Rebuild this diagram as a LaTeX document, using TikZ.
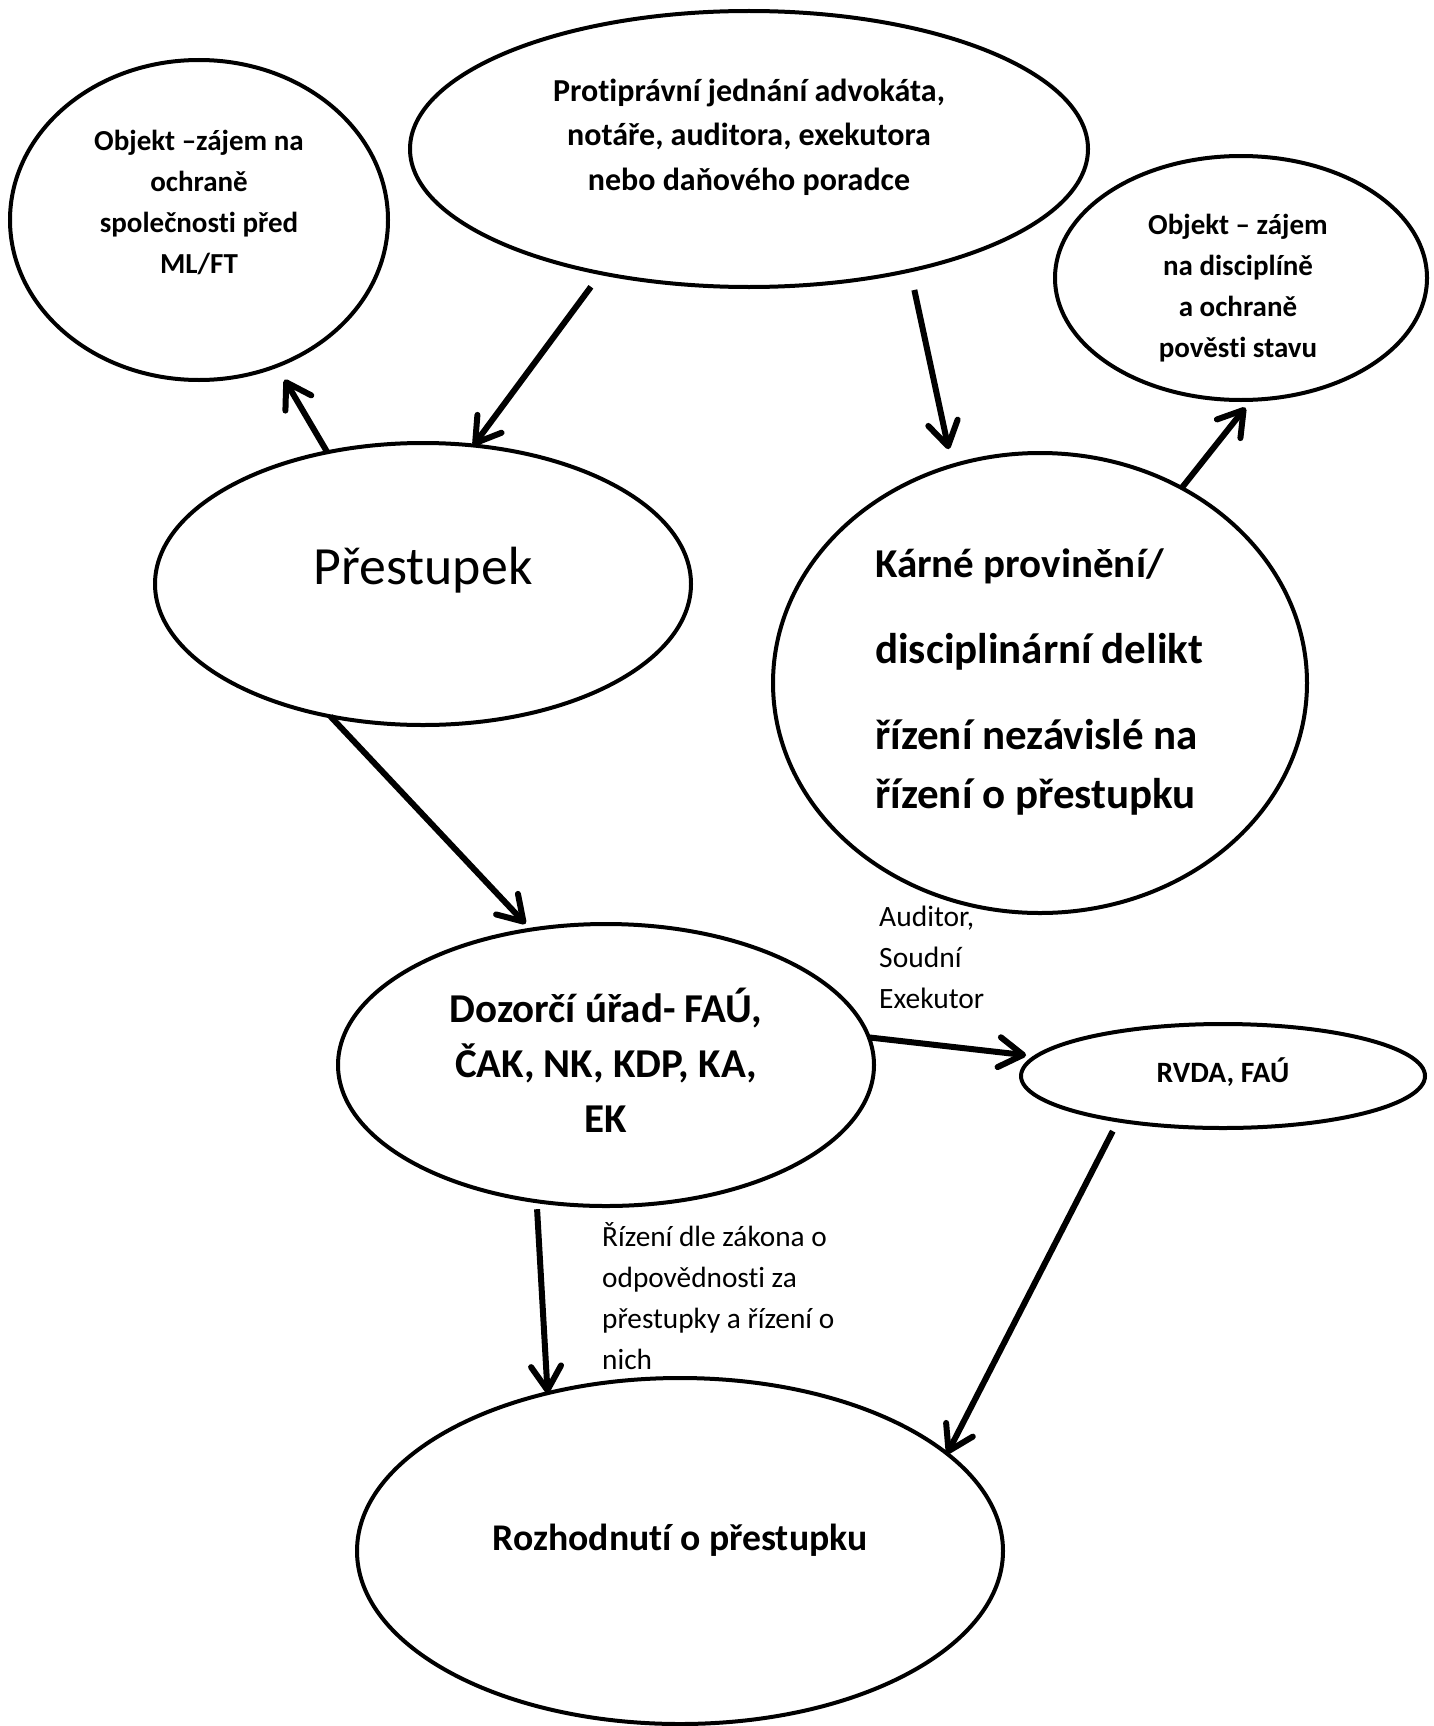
\documentclass[tikz,border=0pt]{standalone}
\usepackage{fontspec}
\setmainfont{Carlito}[Ligatures={NoCommon,NoContextual,NoRequired,NoRare},Contextuals=NoAlternate]
\usetikzlibrary{shapes.geometric,arrows.meta}
\begin{document}
\begin{tikzpicture}[x=1pt,y=-1pt,
  bub/.style={ellipse,draw,line width=4pt,inner sep=0pt,outer sep=0pt},
  conn/.style={line width=6pt,-{Straight Barb[length=24pt,width=30pt,round]}},
  txt/.style={align=center,inner sep=0pt},
  ltxt/.style={align=left,inner sep=0pt,anchor=west},
]
\fill[white] (0,0) rectangle (1434,1726);
\useasboundingbox (0,0) rectangle (1434,1726);
% ellipses
\node[bub,minimum width=378pt,minimum height=320pt] (A) at (199,220) {};
\node[bub,minimum width=678pt,minimum height=276pt] (B) at (749,149) {};
\node[bub,minimum width=372pt,minimum height=244pt] (C) at (1241,278) {};
\node[bub,minimum width=536pt,minimum height=282pt] (D) at (423,584) {};
\node[bub,minimum width=534pt,minimum height=460pt] (E) at (1040,683) {};
\node[bub,minimum width=536pt,minimum height=282pt] (F) at (606,1065) {};
\node[bub,minimum width=404pt,minimum height=104pt] (G) at (1223,1076) {};
\node[bub,minimum width=646pt,minimum height=346pt] (H) at (680,1551) {};
% texts
\node[txt,font=\bfseries\fontsize{29}{41}\selectfont] (At) at (199,202) {Objekt –zájem na\\ochraně\\společnosti před\\ML/FT};
\node[txt,font=\bfseries\fontsize{32}{44.5}\selectfont] (Bt) at (749,137) {Protiprávní jednání advokáta,\\notáře, auditora, exekutora\\nebo daňového poradce};
\node[txt,font=\bfseries\fontsize{29}{41}\selectfont] (Ct) at (1238,288) {Objekt – zájem\\na disciplíně\\a ochraně\\pověsti stavu};
\node[txt,font=\fontsize{53.8}{60}\selectfont] (Dt) at (423,570) {Přestupek};
\node[ltxt,font=\bfseries\fontsize{43}{59}\selectfont] (Et) at (875,682) {{\fontsize{41}{59}\selectfont Kárné provinění/}\\[27pt]disciplinární delikt\\[27pt]řízení nezávislé na\\řízení o přestupku};
\node[txt,font=\bfseries\fontsize{41}{55}\selectfont] (Ft) at (606,1060) {Dozorčí úřad- FAÚ,\\ČAK, NK, KDP, KA,\\EK};
\node[txt,font=\bfseries\fontsize{29.5}{33}\selectfont] (Gt) at (1223,1072) {RVDA, FAÚ};
\node[txt,font=\bfseries\fontsize{37.7}{44}\selectfont] (Ht) at (680,1540) {Rozhodnutí o přestupku};
\node[ltxt,font=\fontsize{29.5}{41}\selectfont] (L1) at (879,957) {Auditor,\\Soudní\\Exekutor};
\node[ltxt,font=\fontsize{29.3}{41}\selectfont] (L2) at (602,1296) {Řízení dle zákona o\\odpovědnosti za\\přestupky a řízení o\\nich};
% connectors
\draw[conn,shorten >=16pt] (D.126) -- (A.-62);
\draw[conn,shorten <=17pt] (B.220) -- (D.70);
\draw[conn,shorten <=20pt,shorten >=17pt] (B.-37) -- (E.112);
\draw[conn,shorten >=10pt] (E.54) -- (C.-85);
\draw[conn,shorten >=8pt] (D.235) -- (F.119);
\draw[conn,shorten >=10pt] (F.6) -- (G.174);
\draw[conn,shorten <=8pt] (F.243) -- (H.130);
\draw[conn,shorten <=12pt] (G.203) -- (H.20);
\end{tikzpicture}
\end{document}
